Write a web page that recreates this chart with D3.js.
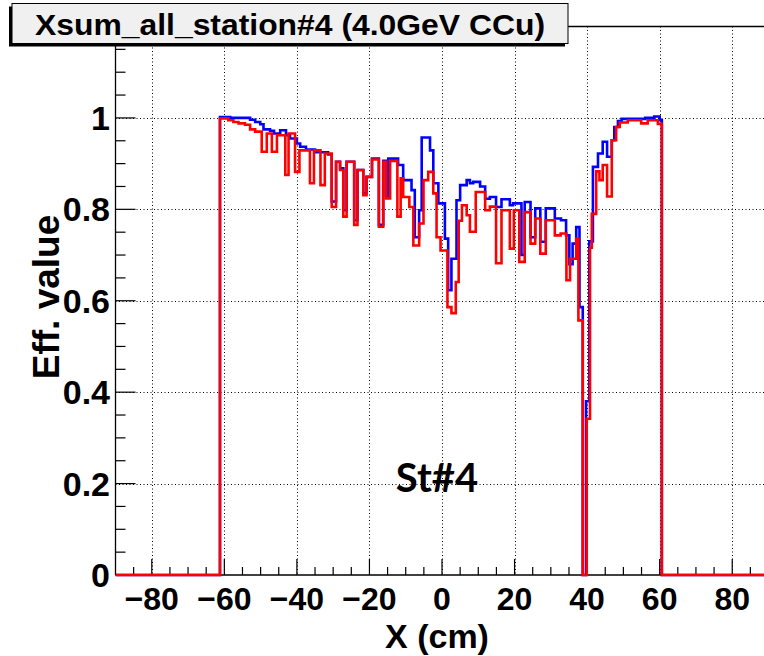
<!DOCTYPE html>
<html><head><meta charset="utf-8">
<script src="https://cdn.jsdelivr.net/npm/d3@7"></script>
<style>html,body{margin:0;padding:0;background:#fff;}svg{display:block;}</style>
</head><body>
<svg id="c" width="764" height="656"></svg>
<script>
// ---------- data ----------
const titleText = "Xsum_all_station#4 (4.0GeV CCu)";
const xLabel = "X (cm)";
const yLabel = "Eff. value";
const stationLabel = "St#4";
const xTicks = [-80, -60, -40, -20, 0, 20, 40, 60, 80];
const yTicks = [0, 0.2, 0.4, 0.6, 0.8, 1];

// blue series: step edges (cm) and bin contents
const blueEdges = [-61.2,-58.4,-52.9,-51.5,-50.1,-49.2,-47.4,-46.3,-44.6,-43.0,-41.9,-40.0,-39.1,-37.5,-35.0,-31.4,-30.4,-29.2,-28.1,-27.2,-26.3,-24.2,-23.3,-21.7,-20.8,-19.3,-17.4,-16.2,-15.4,-14.8,-12.1,-10.7,-8.4,-7.5,-6.3,-5.6,-3.3,-2.4,-1.0,0.8,1.7,2.6,4.0,5.0,6.8,7.7,8.6,10.5,11.9,13.2,14.9,16.4,18.7,19.6,21.9,22.8,24.4,25.7,27.1,28.6,31.1,32.8,34.2,35.1,36.0,37.0,37.9,38.8,39.7,40.6,41.6,43.0,44.3,45.5,46.8,47.5,48.5,49.5,56.0,58.5,60.0,60.6];
const blueVals = [1.002,1.0,0.996,0.991,0.986,0.975,0.972,0.966,0.973,0.962,0.955,0.944,0.937,0.931,0.925,0.92,0.817,0.904,0.89,0.798,0.904,0.776,0.886,0.835,0.871,0.911,0.766,0.906,0.83,0.911,0.897,0.864,0.842,0.739,0.798,0.957,0.929,0.857,0.813,0.736,0.623,0.692,0.820,0.853,0.864,0.857,0.860,0.850,0.823,0.827,0.805,0.822,0.809,0.813,0.700,0.816,0.739,0.802,0.729,0.802,0.780,0.776,0.743,0.68,0.725,0.761,0.586,0.0,0.38,0.73,0.893,0.922,0.948,0.915,0.951,0.98,0.993,0.998,1.0,1.003,0.995];

// red series: step edges (cm) and bin contents
const redEdges = [-61.2,-58.9,-57.5,-56.1,-54.3,-52.9,-51.5,-49.7,-48.3,-46.9,-45.5,-43.2,-42.3,-40.5,-39.3,-36.4,-35.3,-33.5,-32.3,-30.4,-29.2,-28.1,-27.2,-26.3,-24.2,-23.3,-21.7,-20.8,-19.3,-17.4,-16.2,-15.4,-14.3,-12.3,-11.4,-10.7,-9.0,-7.9,-6.3,-5.1,-3.8,-2.4,-1.5,-0.4,1.5,2.6,3.8,4.6,5.5,6.8,7.7,9.3,11.9,13.2,14.9,16.4,18.7,19.8,21.3,22.8,24.4,25.7,27.1,28.6,31.1,32.7,34.3,35.3,37.0,37.6,38.8,39.9,40.8,41.3,42.5,43.4,44.3,45.5,46.8,48.0,49.0,51.2,54.9,56.7,59.5,60.6];
const redVals = [0.999,0.995,0.991,0.988,0.985,0.975,0.970,0.926,0.966,0.926,0.962,0.875,0.966,0.882,0.929,0.857,0.929,0.853,0.922,0.805,0.904,0.886,0.784,0.904,0.766,0.886,0.831,0.871,0.909,0.762,0.904,0.824,0.906,0.784,0.868,0.827,0.805,0.721,0.769,0.864,0.882,0.835,0.739,0.710,0.586,0.573,0.641,0.775,0.809,0.787,0.751,0.838,0.798,0.806,0.682,0.798,0.714,0.798,0.685,0.794,0.725,0.780,0.703,0.776,0.743,0.747,0.645,0.692,0.736,0.557,0.0,0.342,0.716,0.790,0.883,0.864,0.897,0.828,0.951,0.980,0.990,0.995,0.988,0.995,0.987];

// ---------- chart ----------
const svg = d3.select("#c");
svg.append("rect").attr("width",764).attr("height",656).attr("fill","#fff");
const x = d3.scaleLinear().domain([-90, 90]).range([115.5, 768.5]);
const y = d3.scaleLinear().domain([0, 1.2]).range([575, 26.5]);
const FONT = "'Liberation Sans', Arial, Helvetica, sans-serif";

// grid
const grid = svg.append("g").attr("stroke","#000").attr("stroke-width",1).attr("stroke-dasharray","1,2.5");
grid.selectAll("line.vx").data(xTicks).join("line")
  .attr("x1",d=>Math.round(x(d))+0.5).attr("x2",d=>Math.round(x(d))+0.5)
  .attr("y1",y(1.2)).attr("y2",y(0));
grid.selectAll("line.hy").data(yTicks.filter(d=>d>0)).join("line")
  .attr("x1",x(-90)).attr("x2",764)
  .attr("y1",d=>Math.round(y(d))+0.5).attr("y2",d=>Math.round(y(d))+0.5);

// frame top line
svg.append("line").attr("x1",x(-90)).attr("x2",764).attr("y1",y(1.2)).attr("y2",y(1.2)).attr("stroke","#000").attr("stroke-width",1.3);

// histograms
function stepPoints(edges, vals){
  const pts = [[-90,0],[edges[0],0]];
  vals.forEach((v,i)=>{ pts.push([edges[i],v]); pts.push([edges[i+1],v]); });
  pts.push([edges[edges.length-1],0]); pts.push([90,0]);
  return pts;
}
const line = d3.line().x(d=>x(d[0])).y(d=>y(d[1]));
svg.append("clipPath").attr("id","pc").append("rect")
  .attr("x",x(-90)).attr("y",y(1.2)).attr("width",764-x(-90)).attr("height",y(0)-y(1.2)+3);

// axes
const axG = svg.append("g");
axG.append("line").attr("x1",x(-90)).attr("x2",764).attr("y1",y(0)).attr("y2",y(0)).attr("stroke","#000").attr("stroke-width",1.3);
axG.append("line").attr("x1",x(-90)).attr("x2",x(-90)).attr("y1",y(1.2)).attr("y2",y(0)).attr("stroke","#000").attr("stroke-width",1.3);
axG.selectAll("line.xt").data(d3.range(-85,90,5)).join("line")
  .attr("x1",d=>x(d)).attr("x2",d=>x(d))
  .attr("y1",y(0)).attr("y2",d=> (d%20===0)? y(0)-16 : y(0)-8)
  .attr("stroke","#000").attr("stroke-width",1.2);
axG.selectAll("line.yt").data(d3.range(0,1.2001,0.05)).join("line")
  .attr("x1",x(-90)).attr("x2",d=> (Math.abs(d/0.2-Math.round(d/0.2))<1e-6)? x(-90)+20 : x(-90)+10)
  .attr("y1",d=>y(d)).attr("y2",d=>y(d))
  .attr("stroke","#000").attr("stroke-width",1.2);

svg.append("path").attr("d",line(stepPoints(blueEdges,blueVals))).attr("fill","none")
  .attr("stroke","#0000ff").attr("stroke-width",2.6).attr("clip-path","url(#pc)");
svg.append("path").attr("d",line(stepPoints(redEdges,redVals))).attr("fill","none")
  .attr("stroke","#ff0000").attr("stroke-width",2.6).attr("clip-path","url(#pc)");

// tick labels
const fmtX = d => d<0 ? "\u2212"+Math.abs(d) : String(d);
svg.append("g").selectAll("text").data(xTicks).join("text")
  .attr("x",d=>x(d)).attr("y",610).attr("text-anchor","middle")
  .attr("font-family",FONT).attr("font-weight","bold").attr("font-size",32)
  .text(fmtX);
svg.append("g").selectAll("text").data(yTicks).join("text")
  .attr("x",110).attr("y",d=>y(d)+12).attr("text-anchor","end")
  .attr("font-family",FONT).attr("font-weight","bold").attr("font-size",34)
  .text(d=>d===0||d===1? String(d) : d.toFixed(1));

// axis titles
svg.append("text").attr("x",437).attr("y",648).attr("text-anchor","middle")
  .attr("font-family",FONT).attr("font-weight","bold").attr("font-size",34).text(xLabel);
svg.append("text").attr("transform","translate(59,297) rotate(-90)").attr("text-anchor","middle")
  .attr("font-family",FONT).attr("font-weight","bold").attr("font-size",37).text(yLabel);

// station label
svg.append("text").attr("x",437).attr("y",492).attr("text-anchor","middle")
  .attr("font-family","Lato, 'Open Sans', sans-serif").attr("font-weight","bold").attr("font-size",40).text(stationLabel);

// title box
svg.append("rect").attr("x",9).attr("y",6.5).attr("width",556).attr("height",40).attr("fill","#000");
svg.append("rect").attr("x",12).attr("y",3.5).attr("width",556).attr("height",40).attr("fill","#f0f0f0").attr("stroke","#000").attr("stroke-width",1);
svg.append("text").attr("x",290).attr("y",35).attr("text-anchor","middle")
  .attr("font-family",FONT).attr("font-weight","bold").attr("font-size",30)
  .attr("textLength",510).attr("lengthAdjust","spacingAndGlyphs").text(titleText);
</script>
</body></html>
